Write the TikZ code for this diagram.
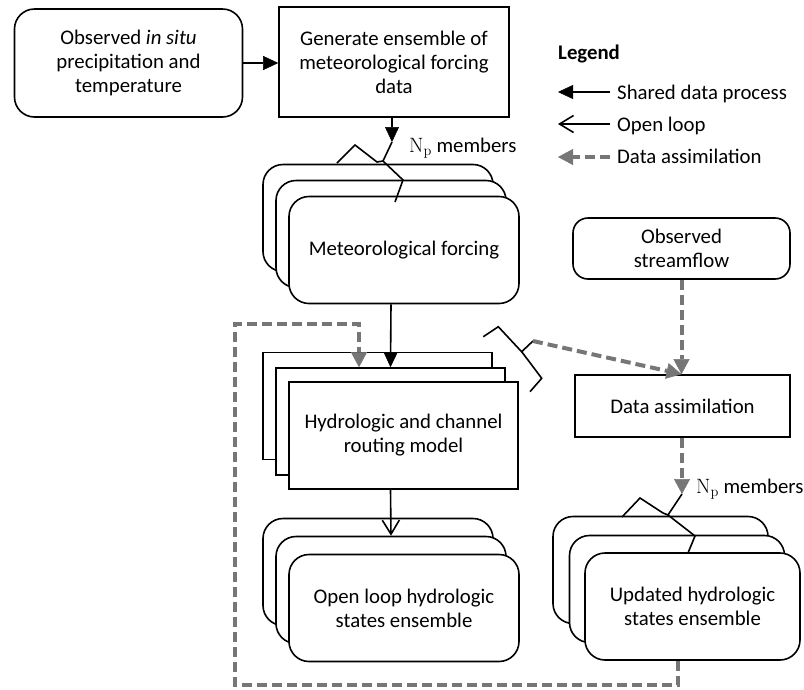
\documentclass[tikz,border=0pt]{standalone}
\usepackage[no-math]{fontspec}
\setmainfont{Carlito}
\usetikzlibrary{arrows.meta}
\definecolor{dagrey}{RGB}{118,118,118}
\begin{document}
\begin{tikzpicture}[x=1pt,y=-1pt,
 every node/.style={font=\fontsize{20.8}{24}\selectfont, align=center, inner sep=0pt},
 rbox/.style={draw, line width=1.6pt, fill=white, rounded corners=20pt, minimum width=230pt, minimum height=107pt},
 sbox/.style={draw, line width=1.6pt, fill=white, minimum width=229pt, minimum height=107pt},
 shared/.style={line width=1.6pt, -{Triangle[length=15pt,width=14pt,line width=0.5pt]}},
 openl/.style={line width=1.6pt, -{Straight Barb[length=14pt,width=17pt,line width=1.6pt]}},
 assim/.style={draw=dagrey, line width=4pt, dash pattern=on 10pt off 5pt, line join=miter,
   -{Triangle[length=15pt,width=16pt,line width=0.5pt,fill=dagrey]}},
 bracel/.style={line width=1.6pt, line join=miter}]
\useasboundingbox (0,0) rectangle (804,689);

% top row
\node[rbox, minimum width=228pt, minimum height=108pt] (obs) at (128.5,63) {Observed \textit{in situ}\\precipitation and\\temperature};
\node[sbox, minimum width=230pt, minimum height=110pt] (gen) at (394,62) {Generate ensemble of\\meteorological forcing\\data};

% meteorological forcing stack
\node[rbox] (met3) at (378,218) {};
\node[rbox] (met2) at (391,234) {};
\node[rbox] (met1) at (404,250) {Meteorological forcing};

% hydrologic model stack
\node[sbox] (hyd3) at (377.5,406) {};
\node[sbox] (hyd2) at (390.5,421.5) {};
\node[sbox] (hyd1) at (403.5,435.5) {Hydrologic and channel\\routing model};

% open loop stack
\node[rbox] (olp3) at (378,572) {};
\node[rbox] (olp2) at (391,590) {};
\node[rbox] (olp1) at (404,608) {Open loop hydrologic\\states ensemble};

% updated stack
\node[rbox, minimum width=215pt] (upd3) at (660.5,570) {};
\node[rbox, minimum width=215pt] (upd2) at (677,589) {};
\node[rbox, minimum width=215pt] (upd1) at (692.5,606.5) {Updated hydrologic\\states ensemble};

% right column
\node[rbox, rounded corners=15pt, minimum width=217pt, minimum height=61pt] (sf) at (681.5,248.5) {Observed\\streamflow};
\node[sbox, minimum width=215pt, minimum height=62pt] (da) at (682.5,406) {Data assimilation};

% member labels
\node[anchor=base west] (np1) at (409,152) {$\mathrm{N_p}$ members};
\node[anchor=base west] (np2) at (696,493) {$\mathrm{N_p}$ members};

% connectors
\draw[shared] (obs.east) -- (obs.east -| gen.west);
\coordinate (t1) at (392,142);
\draw[shared] (gen.south -| t1) -- (t1);
\draw[bracel] (337,163) -- (355,145) -- (377,162) -- (383,161) -- (t1);
\draw[bracel] (383,161) -- (403,180) -- (395,202);

\draw[shared] (met2.center |- met1.south) -- (hyd2.north);
\draw[openl] (hyd2.center |- hyd1.south) -- (olp2.north);

\draw[assim] (sf.south) -- (sf.south |- da.north);
\coordinate (t2) at (533,341);
\draw[bracel] (483.3,336.7) -- (498.3,326.7) -- (520,350) -- (521.7,351.7) -- (t2);
\draw[bracel] (521.7,351.7) -- (541.7,378.3) -- (530,391.7);
\draw[assim] (t2) -- (sf.south |- da.north);

\coordinate (t3) at (682,494);
\draw[assim] (da.south -| t3) -- (t3);
\draw[bracel] (622,517) -- (640,498) -- (663,513) -- (668,515) -- (t3);
\draw[bracel] (668,515) -- (695,536) -- (688,553);

\coordinate (fb1) at (678,685);
\coordinate (fb2) at (235,685);
\coordinate (fb3) at (235,324);
\coordinate (fb4) at (359,324);
\draw[assim] (upd1.south -| fb1) -- (fb1) -- (fb2) -- (fb3) -- (fb4) -- (fb4 |- hyd2.north);

% legend
\node[anchor=base west, font=\bfseries\fontsize{20.8}{24}\selectfont] (leg) at (558,59) {Legend};
\coordinate (la1) at (610,92);  \coordinate (lb1) at (558,92);
\coordinate (la2) at (610,124); \coordinate (lb2) at (558,124);
\coordinate (la3) at (610,157); \coordinate (lb3) at (558,157);
\draw[shared] (la1) -- (lb1);
\draw[openl] (la2) -- (lb2);
\draw[assim] (la3) -- (lb3);
\node[anchor=base west] (lt1) at (617,99) {Shared data process};
\node[anchor=base west] (lt2) at (617,131) {Open loop};
\node[anchor=base west] (lt3) at (617,163) {Data assimilation};
\end{tikzpicture}
\end{document}
